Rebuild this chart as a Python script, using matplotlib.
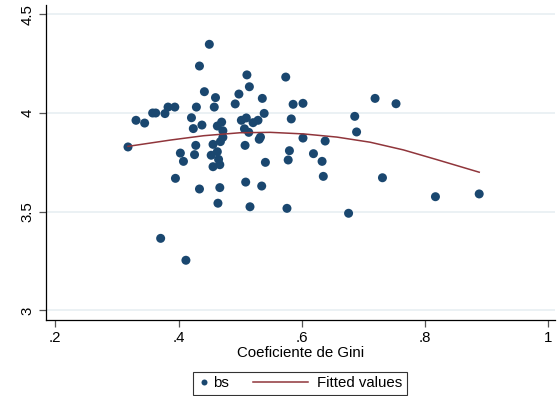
import numpy as np
import matplotlib
matplotlib.use("Agg")
import matplotlib.pyplot as plt
from matplotlib.legend_handler import HandlerBase
from matplotlib.lines import Line2D

plt.rcParams['font.family'] = ['Liberation Sans', 'DejaVu Sans']

# Data
gini = [0.318, 0.331, 0.345, 0.358, 0.363, 0.378, 0.383, 0.394, 0.434, 0.450,
        0.442, 0.460, 0.429, 0.458, 0.421, 0.438, 0.424, 0.470, 0.463, 0.472,
        0.472, 0.468, 0.456, 0.428, 0.403, 0.408, 0.426, 0.453, 0.463, 0.465,
        0.456, 0.467, 0.395, 0.434, 0.467, 0.509, 0.535, 0.508, 0.492, 0.498,
        0.511, 0.515, 0.536, 0.539, 0.502, 0.510, 0.507, 0.514, 0.521, 0.529,
        0.533, 0.531, 0.541, 0.574, 0.586, 0.602, 0.583, 0.602, 0.638, 0.580,
        0.578, 0.619, 0.633, 0.635, 0.719, 0.753, 0.686, 0.689, 0.731, 0.817,
        0.888, 0.576, 0.676, 0.464, 0.516, 0.371, 0.412]
bs = [3.828, 3.963, 3.949, 4.000, 4.000, 3.997, 4.030, 4.030, 4.238, 4.348,
      4.108, 4.078, 4.030, 4.030, 3.976, 3.939, 3.921, 3.954, 3.934, 3.910,
      3.877, 3.855, 3.841, 3.836, 3.797, 3.755, 3.789, 3.786, 3.804, 3.765,
      3.728, 3.738, 3.669, 3.615, 3.622, 3.650, 3.630, 3.836, 4.046, 4.096,
      4.193, 4.133, 4.074, 3.998, 3.963, 3.975, 3.920, 3.902, 3.951, 3.963,
      3.878, 3.867, 3.750, 4.182, 4.044, 4.049, 3.970, 3.873, 3.858, 3.809,
      3.762, 3.794, 3.755, 3.679, 4.074, 4.047, 3.983, 3.904, 3.672, 3.576,
      3.590, 3.517, 3.492, 3.543, 3.525, 3.365, 3.254]

# Fitted values (quadratic fit line)
fit_x = [0.318, 0.387, 0.441, 0.500, 0.549, 0.603, 0.657, 0.711, 0.765, 0.819, 0.888]
fit_y = [3.831, 3.863, 3.885, 3.900, 3.902, 3.894, 3.878, 3.852, 3.813, 3.764, 3.700]

xticks = [0.2, 0.4, 0.6, 0.8, 1.0]
xticklabels = ['.2', '.4', '.6', '.8', '1']
yticks = [3.0, 3.5, 4.0, 4.5]
yticklabels = ['3', '3.5', '4', '4.5']

navy = '#1a476f'
maroon = '#90353b'
PX = 0.72  # points per pixel at 100 dpi

fig = plt.figure(figsize=(5.58, 3.96), dpi=100)
ax = fig.add_axes([46/558, 1-319.5/396, (555-46)/558, (319.5-5)/396])

for yt in yticks:
    ax.axhline(yt, color='#e6eef1', lw=1.1, zorder=0)

ax.scatter(gini, bs, s=42, color=navy, edgecolors='none', zorder=3)
ax.plot(fit_x, fit_y, color=maroon, lw=1.1, zorder=4)

ax.set_xlim(0.2 + (45.7-55)/616.5, 0.2 + (555-55)/616.5)
ax.set_ylim(4 - (319.5-113)/197.4, 4 + (113-5)/197.4)

ax.set_xticks(xticks)
ax.set_xticklabels(xticklabels)
ax.set_yticks(yticks)
ax.set_yticklabels(yticklabels, rotation=90, va='center')

for s in ['top', 'right']:
    ax.spines[s].set_visible(False)
for s in ['left', 'bottom']:
    ax.spines[s].set_color('black')
    ax.spines[s].set_linewidth(0.9)

ax.tick_params(axis='both', direction='out', length=5, width=0.9,
               color='#555555', labelsize=10.8, labelcolor='black', pad=3)
ax.set_xlabel('Coeficiente de Gini', fontsize=10.8, labelpad=1)


class MarkerHandler(HandlerBase):
    def create_artists(self, legend, orig_handle, xdescent, ydescent,
                       width, height, fontsize, trans):
        m = Line2D([width/2 - xdescent], [height/2 - ydescent], marker='o',
                   ms=6*PX, color=navy, ls='none', mec='none', transform=trans)
        return [m]


class LongLineHandler(HandlerBase):
    def create_artists(self, legend, orig_handle, xdescent, ydescent,
                       width, height, fontsize, trans):
        x1 = width - xdescent - 5.5*PX
        x0 = x1 - 55*PX
        l = Line2D([x0, x1], [height/2 - ydescent]*2, color=maroon,
                   lw=1.1, transform=trans)
        return [l]


h1 = Line2D([], [], marker='o', color=navy, ls='none')
h2 = Line2D([], [], color=maroon)
leg = fig.legend(handles=[h1, h2], labels=['bs', 'Fitted values'],
                 loc='lower left', bbox_to_anchor=(193/558, 1.5/396),
                 borderaxespad=0, ncol=2, frameon=True, fancybox=False,
                 edgecolor='black', fontsize=10.8, handlelength=0.8,
                 handletextpad=0.25, columnspacing=4.8, borderpad=0.3,
                 handler_map={h1: MarkerHandler(), h2: LongLineHandler()})
leg.get_frame().set_linewidth(0.8)

fig.savefig('out.png', dpi=100)
